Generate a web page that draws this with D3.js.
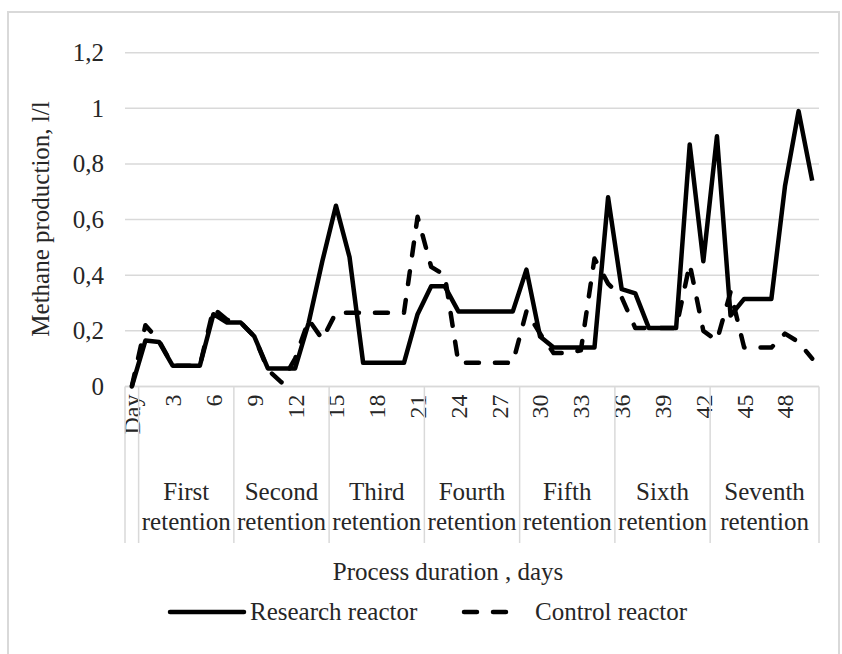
<!DOCTYPE html>
<html>
<head>
<meta charset="utf-8">
<script src="https://cdn.jsdelivr.net/npm/d3@7"></script>
<style>
  html, body { margin: 0; padding: 0; background: #fff; }
  svg text { font-family: "Liberation Serif", "Times New Roman", serif; fill: #262626; }
</style>
</head>
<body>
<svg id="chart" width="842" height="654"></svg>
<script>
// ---- data ----
const categories = ["Day"].concat(d3.range(1, 51).map(String));
const research = [0, 0.165, 0.16, 0.075, 0.075, 0.075, 0.26, 0.23, 0.23, 0.18,
  0.065, 0.065, 0.065, 0.23, 0.45, 0.65, 0.465, 0.085, 0.085, 0.085,
  0.085, 0.26, 0.36, 0.36, 0.27, 0.27, 0.27, 0.27, 0.27, 0.42,
  0.18, 0.14, 0.14, 0.14, 0.14, 0.68, 0.35, 0.335, 0.21, 0.21,
  0.21, 0.87, 0.45, 0.90, 0.255, 0.315, 0.315, 0.315, 0.72, 0.99, 0.74];
const control = [0, 0.22, 0.165, 0.075, 0.075, 0.075, 0.28, 0.24, 0.23, 0.18,
  0.06, 0.015, 0.1, 0.24, 0.17, 0.265, 0.265, 0.265, 0.265, 0.265,
  0.265, 0.61, 0.43, 0.40, 0.085, 0.085, 0.085, 0.085, 0.085, 0.27,
  0.19, 0.12, 0.12, 0.13, 0.46, 0.37, 0.32, 0.21, 0.21, 0.21,
  0.21, 0.44, 0.20, 0.165, 0.34, 0.14, 0.14, 0.14, 0.19, 0.16, 0.10];
const groupNames = ["First", "Second", "Third", "Fourth", "Fifth", "Sixth", "Seventh"];
const groupStart = [1, 8, 15, 22, 29, 36, 43];
const groupEnd = [7, 14, 21, 28, 35, 42, 50];
const yTicks = [0, 0.2, 0.4, 0.6, 0.8, 1, 1.2];
const seriesNames = ["Research reactor", "Control reactor"];

// ---- layout ----
const svg = d3.select("#chart");
const pLeft = 125, pRight = 819, pTop = 52.7, pBottom = 386.5;
const x = d3.scaleBand().domain(d3.range(categories.length)).range([pLeft, pRight]).padding(0);
const y = d3.scaleLinear().domain([0, 1.2]).range([pBottom, pTop]);
const cx = i => x(i) + x.bandwidth() / 2;

// border
svg.append("rect").attr("x", 8).attr("y", 12).attr("width", 831).attr("height", 660)
  .attr("fill", "none").attr("stroke", "#d9d9d9").attr("stroke-width", 2);

// gridlines
svg.append("g").selectAll("line").data(yTicks).join("line")
  .attr("x1", pLeft).attr("x2", pRight)
  .attr("y1", d => y(d)).attr("y2", d => y(d))
  .attr("stroke", "#d9d9d9").attr("stroke-width", 1.5);

// y axis labels
const yAxis = d3.axisLeft(y).tickValues(yTicks).tickSize(0).tickPadding(21)
  .tickFormat(d => String(d).replace(".", ","));
const gy = svg.append("g").attr("transform", `translate(${pLeft},0)`).call(yAxis);
gy.select(".domain").remove();
gy.selectAll("text").style("font-size", "25px").attr("fill", "#262626")
  .style("font-family", "'Liberation Serif', 'Times New Roman', serif");

// x axis (day labels)
const xAxis = d3.axisBottom(x).tickValues(d3.range(0, categories.length, 3))
  .tickFormat(i => categories[i]).tickSize(0);
const gx = svg.append("g").attr("transform", `translate(0,${pBottom})`).call(xAxis);
gx.select(".domain").remove();
gx.selectAll("text")
  .attr("transform", "rotate(-90)")
  .attr("x", -8).attr("y", 0).attr("dy", "0.35em")
  .attr("text-anchor", "end")
  .style("font-size", "24px").attr("fill", "#262626")
  .style("font-family", "'Liberation Serif', 'Times New Roman', serif");

// category group separators
const sepX = [x(0), x(1)].concat(groupEnd.map(e => x(e) + x.bandwidth()));
svg.append("g").selectAll("line").data(sepX).join("line")
  .attr("x1", d => d).attr("x2", d => d)
  .attr("y1", pBottom).attr("y2", 543)
  .attr("stroke", "#d9d9d9").attr("stroke-width", 1.5);
// axis line
svg.append("line").attr("x1", pLeft).attr("x2", pRight).attr("y1", pBottom).attr("y2", pBottom)
  .attr("stroke", "#d9d9d9").attr("stroke-width", 1.5);

// group labels
const gx2 = (d, i) => (x(groupStart[i]) + x(groupEnd[i]) + x.bandwidth()) / 2;
const gl = svg.append("g").selectAll("text").data(groupNames).join("text")
  .attr("text-anchor", "middle")
  .style("font-size", "25px");
gl.append("tspan").attr("x", gx2).attr("y", 500).text(d => d);
gl.append("tspan").attr("x", gx2).attr("y", 530).text("retention");

// lines
const line = d3.line().x((d, i) => cx(i)).y(d => y(d));
svg.append("path").datum(control).attr("d", line)
  .attr("fill", "none").attr("stroke", "#000").attr("stroke-width", 4.5)
  .attr("stroke-dasharray", "13,16").attr("stroke-linecap", "round").attr("stroke-linejoin", "round");
svg.append("path").datum(research).attr("d", line)
  .attr("fill", "none").attr("stroke", "#000").attr("stroke-width", 4.5)
  .attr("stroke-linejoin", "round");

// axis titles
svg.append("text").attr("x", 448).attr("y", 580).attr("text-anchor", "middle")
  .style("font-size", "25px").text("Process duration , days");
svg.append("text").attr("transform", "translate(40,219) rotate(-90)")
  .attr("dy", "0.35em").attr("text-anchor", "middle")
  .style("font-size", "25px").text("Methane production, l/l");

// legend
const lg = svg.append("g");
lg.append("line").attr("x1", 170).attr("x2", 244).attr("y1", 612).attr("y2", 612)
  .attr("stroke", "#000").attr("stroke-width", 4.5).attr("stroke-linecap", "round");
lg.append("text").attr("x", 250).attr("y", 620).style("font-size", "25px").text(seriesNames[0]);
lg.append("line").attr("x1", 464).attr("x2", 512).attr("y1", 612).attr("y2", 612)
  .attr("stroke", "#000").attr("stroke-width", 4.5).attr("stroke-linecap", "round")
  .attr("stroke-dasharray", "13,16");
lg.append("text").attr("x", 535).attr("y", 620).style("font-size", "25px").text(seriesNames[1]);
</script>
</body>
</html>
